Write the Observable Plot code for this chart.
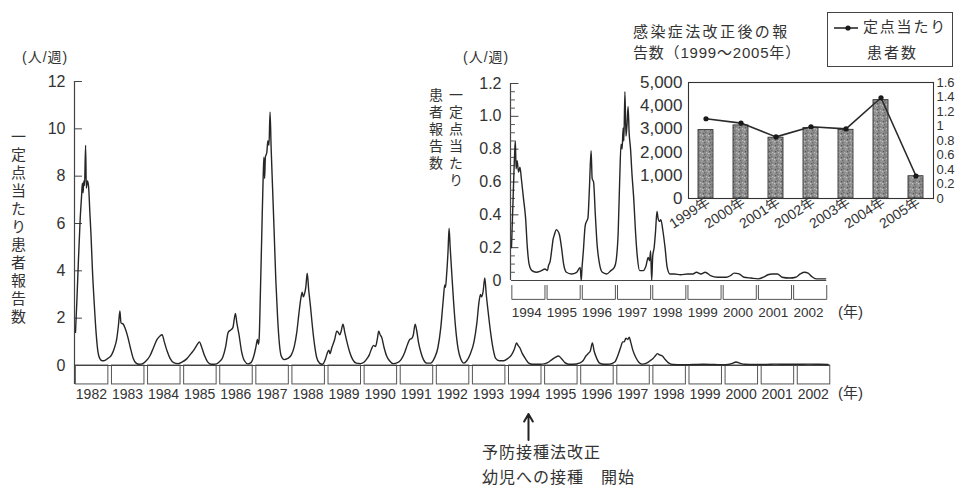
<!DOCTYPE html>
<html><head><meta charset="utf-8">
<script src="https://cdn.jsdelivr.net/npm/d3@7"></script>
<script src="https://cdn.jsdelivr.net/npm/@observablehq/plot@0.6"></script>
<style>
html,body{margin:0;padding:0;background:#fff;}
#chart{position:relative;width:957px;height:485px;overflow:hidden;font-family:"Liberation Sans","Noto Sans CJK JP",sans-serif;color:#333;}
#chart svg{position:absolute;left:0;top:0;}
.lbl{position:absolute;white-space:nowrap;line-height:1;}
.vert{writing-mode:vertical-rl;}
</style></head><body><div id="chart"></div>
<script>
// ---------- data ----------
const mainYearLabels = [1982,1983,1984,1985,1986,1987,1988,1989,1990,1991,1992,1993,1994,1995,1996,1997,1998,1999,2000,2001,2002];
const mainYTicks = [0,2,4,6,8,10,12];
// [year (decimal), reports per sentinel site per week]
const mainSeries = [
[1982.00,1.4],[1982.04,2.8],[1982.08,4.4],[1982.13,6.2],[1982.17,7.2],[1982.19,7.7],[1982.21,7.3],[1982.23,7.8],[1982.25,7.6],[1982.28,9.3],[1982.30,7.5],[1982.33,7.8],[1982.36,7.6],[1982.40,6.4],[1982.43,5.5],[1982.47,4.0],[1982.52,2.6],[1982.57,1.4],[1982.62,0.6],[1982.67,0.3],[1982.74,0.2],[1982.82,0.22],[1982.90,0.3],[1983.00,0.45],[1983.08,0.75],[1983.14,1.1],
[1983.19,1.7],[1983.23,2.3],[1983.26,1.8],[1983.32,1.75],[1983.38,1.55],[1983.45,1.2],[1983.52,0.75],[1983.60,0.3],[1983.68,0.1],[1983.76,0.05],[1983.86,0.08],[1983.96,0.2],
[1984.06,0.4],[1984.16,0.75],[1984.26,1.1],[1984.34,1.25],[1984.40,1.3],[1984.46,1.0],[1984.54,0.6],[1984.62,0.3],[1984.72,0.12],[1984.84,0.08],[1984.96,0.15],
[1985.08,0.28],[1985.20,0.5],[1985.30,0.7],[1985.38,0.9],[1985.43,1.0],[1985.50,0.75],[1985.58,0.4],[1985.66,0.15],[1985.76,0.05],[1985.88,0.06],[1985.98,0.15],
[1986.08,0.35],[1986.16,0.8],[1986.23,1.4],[1986.30,1.5],[1986.36,1.6],[1986.43,2.2],[1986.47,1.8],[1986.53,1.3],[1986.60,0.6],[1986.68,0.2],[1986.78,0.07],[1986.86,0.12],[1986.94,0.4],[1987.00,0.8],[1987.04,1.1],[1987.07,0.9],[1987.09,1.2],
[1987.12,2.9],[1987.16,5.5],[1987.20,8.0],[1987.22,8.8],[1987.24,7.9],[1987.26,8.8],[1987.30,9.0],[1987.33,9.5],[1987.36,9.3],[1987.39,10.7],[1987.42,9.2],[1987.46,7.5],[1987.50,5.8],[1987.55,3.6],[1987.60,2.0],[1987.65,0.9],[1987.70,0.4],[1987.78,0.25],[1987.88,0.3],[1987.98,0.45],
[1988.06,0.8],[1988.13,1.4],[1988.19,2.2],[1988.24,2.8],[1988.28,3.1],[1988.31,2.9],[1988.34,3.0],[1988.38,3.3],[1988.42,3.9],[1988.46,3.2],[1988.51,2.5],[1988.56,1.7],[1988.62,0.9],[1988.68,0.35],[1988.76,0.1],[1988.84,0.05],
[1988.92,0.25],[1988.97,0.5],[1989.02,0.65],[1989.05,0.5],[1989.10,0.75],[1989.18,1.1],[1989.24,1.45],[1989.28,1.4],[1989.32,1.3],[1989.36,1.45],[1989.41,1.75],[1989.46,1.4],[1989.52,1.0],[1989.60,0.55],[1989.68,0.25],[1989.78,0.1],[1989.90,0.08],
[1990.00,0.15],[1990.08,0.3],[1990.14,0.45],[1990.20,0.7],[1990.26,0.85],[1990.31,0.8],[1990.36,1.1],[1990.40,1.45],[1990.44,1.3],[1990.48,1.2],[1990.55,0.75],[1990.62,0.4],[1990.70,0.2],[1990.80,0.08],[1990.92,0.12],
[1991.02,0.25],[1991.12,0.55],[1991.20,0.9],[1991.26,1.1],[1991.32,1.15],[1991.36,1.3],[1991.41,1.75],[1991.45,1.5],[1991.50,1.0],[1991.57,0.55],[1991.64,0.25],[1991.74,0.1],[1991.84,0.1],[1991.94,0.3],
[1992.04,0.75],[1992.12,1.6],[1992.19,2.8],[1992.23,3.4],[1992.25,3.3],[1992.28,3.8],[1992.32,4.8],[1992.35,5.8],[1992.38,5.0],[1992.42,4.0],[1992.47,2.8],[1992.53,1.6],[1992.60,0.7],[1992.68,0.25],[1992.76,0.1],
[1992.84,0.2],[1992.94,0.5],[1993.04,1.0],[1993.12,1.8],[1993.18,2.7],[1993.22,3.0],[1993.25,2.9],[1993.29,3.1],[1993.34,3.7],[1993.38,3.0],[1993.43,2.3],[1993.50,1.4],[1993.57,0.7],[1993.64,0.3],[1993.74,0.2],[1993.86,0.2],[1993.98,0.3],
[1994.08,0.45],[1994.16,0.7],[1994.22,0.95],[1994.26,0.85],[1994.31,0.75],[1994.38,0.5],[1994.46,0.3],[1994.56,0.1],[1994.66,0.05],[1994.80,0.05],[1994.94,0.06],
[1995.08,0.12],[1995.20,0.25],[1995.30,0.35],[1995.38,0.4],[1995.46,0.3],[1995.56,0.12],[1995.66,0.05],[1995.80,0.05],[1995.96,0.1],
[1996.06,0.2],[1996.14,0.4],[1996.20,0.5],[1996.26,0.6],[1996.32,0.95],[1996.37,0.6],[1996.44,0.3],[1996.52,0.1],[1996.64,0.05],[1996.80,0.06],[1996.94,0.15],
[1997.02,0.4],[1997.10,0.75],[1997.16,1.0],[1997.20,1.0],[1997.25,1.15],[1997.30,1.1],[1997.34,1.2],[1997.38,1.0],[1997.44,0.65],[1997.52,0.35],[1997.60,0.15],[1997.70,0.06],[1997.82,0.1],[1997.92,0.2],
[1998.00,0.3],[1998.06,0.4],[1998.12,0.5],[1998.18,0.45],[1998.26,0.4],[1998.34,0.25],[1998.44,0.1],[1998.56,0.04],
[1998.80,0.03],[1999.10,0.04],[1999.40,0.05],[1999.70,0.04],[2000.00,0.03],[2000.18,0.08],[2000.30,0.15],[2000.40,0.1],[2000.55,0.05],[2000.80,0.04],[2001.10,0.04],[2001.40,0.06],[2001.70,0.05],[2002.00,0.05],[2002.30,0.06],[2002.60,0.05],[2002.85,0.04]
];

const insetYearLabels = [1994,1995,1996,1997,1998,1999,2000,2001,2002];
const insetYTicks = [0,0.2,0.4,0.6,0.8,1.0,1.2];
const insetMinorTicks = [0.05,0.1,0.15,0.25,0.3,0.35,0.45,0.5,0.55,0.65,0.7,0.75,0.85,0.9,0.95,1.05,1.1,1.15];
const insetSeries = [
[1994.00,0.20],[1994.05,0.53],[1994.09,0.78],[1994.11,0.85],[1994.13,0.68],[1994.16,0.73],[1994.20,0.66],[1994.24,0.69],[1994.28,0.62],[1994.34,0.5],[1994.40,0.38],[1994.45,0.2],[1994.50,0.1],[1994.58,0.06],[1994.70,0.05],[1994.85,0.06],[1994.95,0.07],[1995.02,0.06],[1995.05,0.09],
[1995.10,0.12],[1995.15,0.2],[1995.18,0.25],[1995.22,0.28],[1995.27,0.31],[1995.32,0.30],[1995.36,0.28],[1995.42,0.2],[1995.48,0.1],[1995.56,0.05],[1995.70,0.04],[1995.85,0.05],[1995.95,0.08],[1995.98,0.0],[1996.00,0.07],
[1996.04,0.18],[1996.09,0.33],[1996.13,0.36],[1996.17,0.38],[1996.21,0.55],[1996.26,0.79],[1996.29,0.62],[1996.33,0.6],[1996.38,0.4],[1996.43,0.22],[1996.50,0.1],[1996.58,0.05],[1996.70,0.04],[1996.82,0.06],[1996.92,0.08],[1996.97,0.12],
[1997.03,0.3],[1997.07,0.6],[1997.11,0.83],[1997.14,0.8],[1997.17,0.93],[1997.19,0.85],[1997.22,1.15],[1997.25,0.88],[1997.28,0.95],[1997.31,1.06],[1997.34,0.9],[1997.38,0.8],[1997.42,0.65],[1997.47,0.5],[1997.52,0.3],[1997.57,0.15],[1997.64,0.06],[1997.74,0.06],[1997.82,0.09],[1997.88,0.14],[1997.92,0.12],[1997.95,0.18],[1997.98,0.0],[1998.01,0.15],
[1998.05,0.2],[1998.09,0.3],[1998.13,0.42],[1998.16,0.38],[1998.20,0.36],[1998.24,0.37],[1998.30,0.3],[1998.36,0.2],[1998.42,0.08],[1998.50,0.04],[1998.62,0.04],[1998.80,0.035],[1999.00,0.04],[1999.15,0.04],[1999.25,0.05],[1999.38,0.04],[1999.50,0.05],[1999.65,0.03],[1999.85,0.02],
[2000.10,0.02],[2000.22,0.03],[2000.32,0.045],[2000.46,0.04],[2000.60,0.02],[2000.80,0.015],[2001.00,0.01],[2001.15,0.02],[2001.28,0.035],[2001.40,0.04],[2001.55,0.04],[2001.68,0.02],[2001.90,0.015],[2002.07,0.02],[2002.20,0.04],[2002.32,0.05],[2002.42,0.045],[2002.52,0.025],[2002.65,0.01],[2002.92,0.01]
];

const barYears = ["1999年","2000年","2001年","2002年","2003年","2004年","2005年"];
const barReports = [2950,3150,2620,3040,2960,4240,960];
const barRate = [1.10,1.04,0.85,0.99,0.96,1.39,0.31];
const barYTicks = [0,1000,2000,3000,4000,5000];
const rateTicks = [0,0.2,0.4,0.6,0.8,1,1.2,1.4,1.6];
const rateTickLabels = ["0","0.2","0.4","0.6","0.8","1","1.2","1.4","1.6"];
const lawChange = [{year:1994}];

// ---------- setup ----------
const W = 957, H = 485;
const font = '"Liberation Sans","Noto Sans CJK JP",sans-serif';
const ink = "#333";
const lineInk = "#262626";
const chart = document.getElementById("chart");
const baseStyle = {background:"none", fontFamily:font, color:ink, overflow:"visible"};

// ---------- main chart ----------
const mainPlot = Plot.plot({
  width: W, height: H, margin: 0, style: baseStyle,
  x: {domain:[1982,2003], range:[75,833], axis:null},
  y: {domain:[0,12], range:[365,81], axis:null},
  marks: [
    Plot.rect(mainYearLabels, {x1:d=>d+0.01, x2:d=>d+0.91, y1:0, y2:-0.8, stroke:"#555", fill:"none", strokeWidth:1}),
    Plot.ruleY([0], {x1:1982, x2:2002.91, stroke:"#444", strokeWidth:1.2}),
    Plot.ruleX([1982], {y1:-0.8, y2:12, stroke:"#444", strokeWidth:1.2, dx:-1}),
    Plot.ruleY(mainYTicks.filter(d=>d>0), {x1:1982, x2:1982.22, stroke:"#444", dx:-1}),
    Plot.text(mainYTicks, {x:1982, y:d=>d, text:d=>String(d), dx:-10, textAnchor:"end", fontSize:16, fill:ink}),
    Plot.text(mainYearLabels, {x:d=>d+0.44, y:-0.8, text:d=>String(d), dy:10, fontSize:14, fill:ink}),
    Plot.line(mainSeries, {x:d=>d[0], y:d=>d[1], curve:"monotone-x", stroke:lineInk, strokeWidth:1.4}),
    Plot.arrow(lawChange, {x1:d=>d.year+0.55, x2:d=>d.year+0.55, y1:-3.15, y2:-2.05, stroke:"#222", strokeWidth:2, headLength:9})
  ]
});
chart.appendChild(mainPlot);

// ---------- inset: 1994-2002 ----------
const insetBoxes = insetYearLabels.flatMap(y => [
  {x:y+0.01, v:-0.03, z:y}, {x:y+0.01, v:-0.115, z:y}, {x:y+0.95, v:-0.115, z:y}, {x:y+0.95, v:-0.03, z:y}
]);
const insetPlot = Plot.plot({
  width: W, height: H, margin: 0, style: baseStyle,
  x: {domain:[1994,2003], range:[511,828], axis:null},
  y: {domain:[0,1.2], range:[280,83], axis:null},
  marks: [
    Plot.line(insetBoxes, {x:"x", y:"v", z:"z", stroke:"#555", strokeWidth:1}),
    Plot.ruleY([0], {x1:1994, x2:2002.95, stroke:"#444", strokeWidth:1.2}),
    Plot.ruleX([1994], {y1:0, y2:1.2, stroke:"#444", strokeWidth:1.2, dx:-1}),
    Plot.ruleY(insetMinorTicks, {x1:1994, x2:1994.14, stroke:"#555", dx:-1}),
    Plot.ruleY(insetYTicks.filter(d=>d>0), {x1:1994, x2:1994.24, stroke:"#444", dx:-1}),
    Plot.text(insetYTicks, {x:1994, y:d=>d, text:d=>d===0?"0":d.toFixed(1), dx:-10, textAnchor:"end", fontSize:16, fill:ink}),
    Plot.text(insetYearLabels, {x:d=>d+0.43, y:-0.115, text:d=>String(d), dy:13, fontSize:13.5, fill:ink}),
    Plot.line(insetSeries, {x:d=>d[0], y:d=>d[1], curve:"monotone-x", stroke:lineInk, strokeWidth:1.4})
  ]
});
chart.appendChild(insetPlot);

// ---------- inset: bars 1999-2005 ----------
const barData = barYears.map((y,i) => ({year:y, reports:barReports[i], rate:barRate[i]}));
const barMargins = {marginLeft:688, marginRight:W-933, marginTop:82, marginBottom:H-198};
const xBand = {type:"band", domain:barYears, paddingInner:0.57, paddingOuter:0.28, axis:null};
const barPlot = Plot.plot({
  width: W, height: H, ...barMargins, style: baseStyle,
  x: xBand,
  y: {domain:[0,5000], axis:null},
  marks: [
    Plot.barY(barData, {x:"year", y:"reports", fill:"#8e8e8e", stroke:"#333", strokeWidth:0.9}),
    Plot.frame({stroke:"#333", strokeWidth:1.1}),
    Plot.text(barYTicks, {y:d=>d, text:d=>d3.format(",")(d), frameAnchor:"left", dx:-6, textAnchor:"end", fontSize:17, fill:ink}),
    Plot.text(barYears, {x:d=>d, text:d=>d, frameAnchor:"bottom", rotate:-33, textAnchor:"end", dx:5, dy:6, fontSize:14, fill:ink})
  ]
});
// mottled bar texture
const defs = d3.select(barPlot).insert("defs", ":first-child");
const pat = defs.append("pattern").attr("id","speckle").attr("width",6).attr("height",6).attr("patternUnits","userSpaceOnUse");
pat.append("rect").attr("width",6).attr("height",6).attr("fill","#8e8e8e");
[[1,1,"#555"],[4,2,"#b8b8b8"],[2,4,"#666"],[5,5,"#a5a5a5"],[0,3,"#c4c4c4"],[3,0,"#707070"]].forEach(([x,y,c]) =>
  pat.append("rect").attr("x",x).attr("y",y).attr("width",1.3).attr("height",1.3).attr("fill",c));
d3.select(barPlot).selectAll('g[aria-label="bar"]').attr("fill","url(#speckle)");
d3.select(barPlot).selectAll('g[aria-label="bar"] rect').attr("fill","url(#speckle)");
chart.appendChild(barPlot);

const ratePlot = Plot.plot({
  width: W, height: H, ...barMargins, style: baseStyle,
  x: xBand,
  y: {domain:[0,1.6], axis:null},
  marks: [
    Plot.line(barData, {x:"year", y:"rate", stroke:"#2a2a2a", strokeWidth:1.6}),
    Plot.dot(barData, {x:"year", y:"rate", r:2.6, fill:"#1a1a1a", stroke:"none"}),
    Plot.text(rateTicks, {y:d=>d, text:(d,i)=>rateTickLabels[i], frameAnchor:"right", dx:3, textAnchor:"start", fontSize:13, fill:ink})
  ]
});
chart.appendChild(ratePlot);

// ---------- text ----------
function label(html, left, top, css) {
  const d = document.createElement("div");
  d.className = "lbl";
  d.innerHTML = html;
  d.style.left = left + "px";
  d.style.top = top + "px";
  Object.assign(d.style, css || {});
  chart.appendChild(d);
  return d;
}
label("(人/週)", 22, 50, {fontSize:"14px", letterSpacing:"1px"});
const yt = label("一定点当たり患者報告数", 10, 129, {fontSize:"15px", letterSpacing:"3px"}); yt.classList.add("vert");
label("(人/週)", 463, 50, {fontSize:"14px", letterSpacing:"1px"});
const it = label("一定点当たり<br>患者報告数", 425, 88, {fontSize:"14px", letterSpacing:"3px", lineHeight:"20px"}); it.classList.add("vert");
label("(年)", 838, 385, {fontSize:"15px"});
label("(年)", 838, 304, {fontSize:"15px"});
label("感染症法改正後の報", 633, 24, {fontSize:"15px", letterSpacing:"2.4px"});
label("告数（1999～2005年）", 633, 45, {fontSize:"15px", letterSpacing:"0.8px"});
label("予防接種法改正", 482, 445, {fontSize:"16px", letterSpacing:"1px"});
label("幼児への接種　開始", 482, 470, {fontSize:"16px", letterSpacing:"1px"});

// legend
const lg = document.createElement("div");
Object.assign(lg.style, {position:"absolute", left:"827px", top:"12px", width:"124px", height:"53px", border:"1px solid #444", boxSizing:"content-box"});
lg.innerHTML = '<svg width="26" height="10" style="position:absolute;left:5px;top:10px"><line x1="1" y1="5" x2="25" y2="5" stroke="#2a2a2a" stroke-width="1.6"/><circle cx="15" cy="5" r="2.6" fill="#1a1a1a"/></svg>';
chart.appendChild(lg);
label("定点当たり", 863, 19, {fontSize:"15px", letterSpacing:"1.8px"});
label("患者数", 867, 45, {fontSize:"15px", letterSpacing:"2px"});
</script></body></html>
